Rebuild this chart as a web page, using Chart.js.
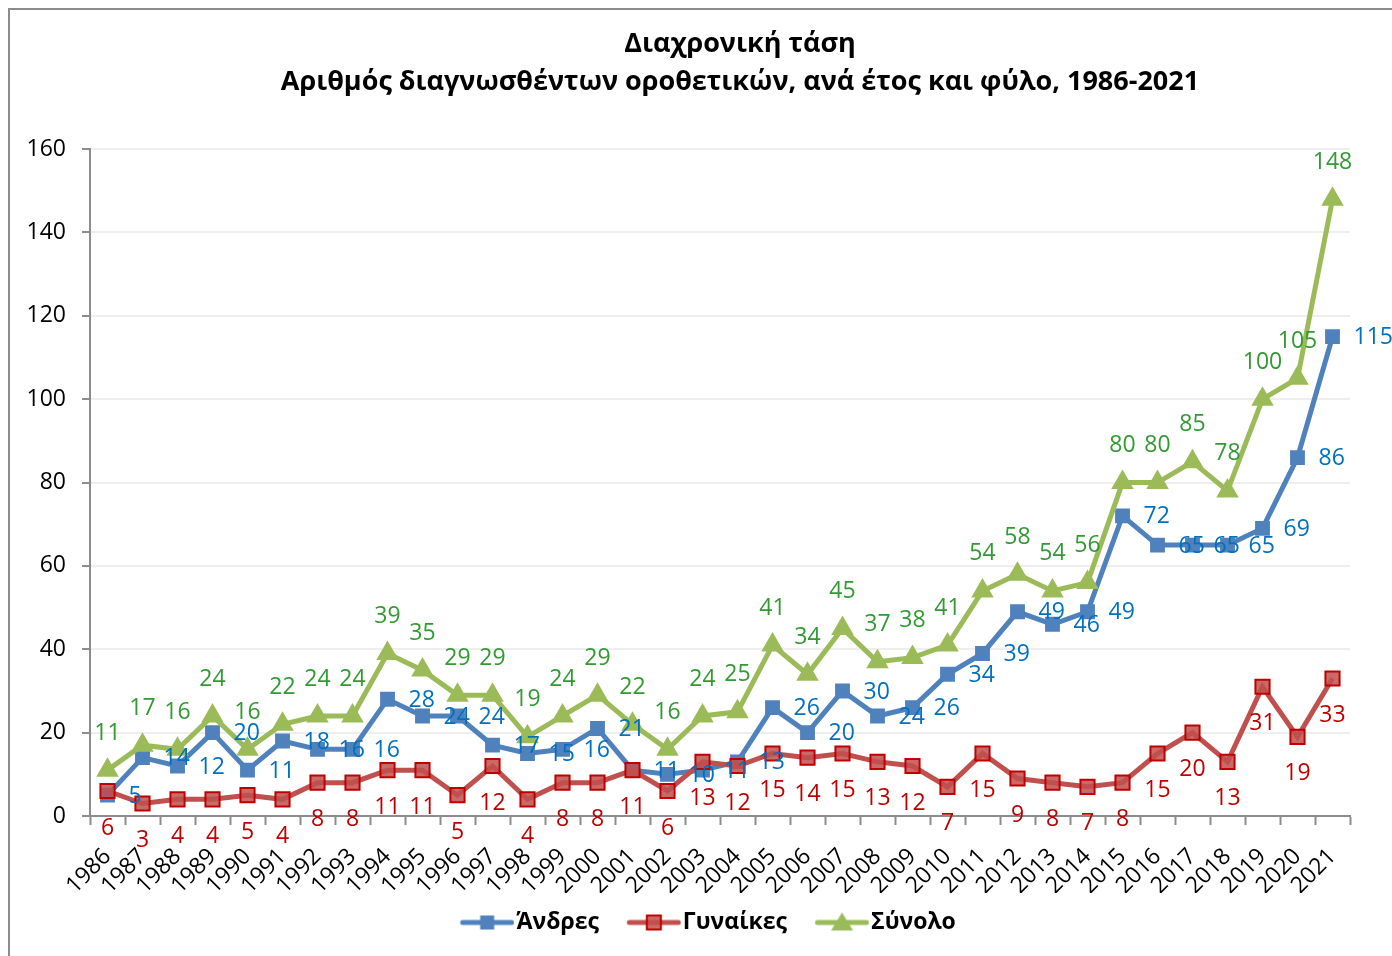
<!DOCTYPE html>
<html lang="el">
<head>
<meta charset="utf-8">
<title>Διαχρονική τάση</title>
<script src="https://cdn.jsdelivr.net/npm/chart.js@4.4.1/dist/chart.umd.min.js"></script>
<style>
  html, body { margin: 0; padding: 0; background: #fff; overflow: hidden; }
  #wrap { position: relative; width: 1392px; height: 956px; }
  #frame { position: absolute; left: 8px; top: 8px; width: 1500px; height: 1100px;
           border: 2px solid #8c8c8c; box-sizing: border-box; pointer-events: none; }
  canvas { position: absolute; left: 0; top: 0; }
</style>
</head>
<body>
<div id="wrap">
  <canvas id="myChart" width="1392" height="956"></canvas>
  <div id="frame"></div>
</div>
<script>
// data
var years = ['1986', '1987', '1988', '1989', '1990', '1991', '1992', '1993', '1994', '1995',
             '1996', '1997', '1998', '1999', '2000', '2001', '2002', '2003', '2004', '2005',
             '2006', '2007', '2008', '2009', '2010', '2011', '2012', '2013', '2014', '2015',
             '2016', '2017', '2018', '2019', '2020', '2021'];
var men   = [5, 14, 12, 20, 11, 18, 16, 16, 28, 24, 24, 17, 15, 16, 21, 11, 10, 11, 13, 26,
             20, 30, 24, 26, 34, 39, 49, 46, 49, 72, 65, 65, 65, 69, 86, 115];
var women = [6, 3, 4, 4, 5, 4, 8, 8, 11, 11, 5, 12, 4, 8, 8, 11, 6, 13, 12, 15,
             14, 15, 13, 12, 7, 15, 9, 8, 7, 8, 15, 20, 13, 31, 19, 33];
var total = [11, 17, 16, 24, 16, 22, 24, 24, 39, 35, 29, 29, 19, 24, 29, 22, 16, 24, 25, 41,
             34, 45, 37, 38, 41, 54, 58, 54, 56, 80, 80, 85, 78, 100, 105, 148];
var seriesNames = ['Άνδρες', 'Γυναίκες', 'Σύνολο'];
var yMin = 0, yMax = 160, yStep = 20;

var FONT = '"Open Sans", "Noto Sans", sans-serif';

// little line+marker pictures for the legend (line sits to the right of the box start)
function legendIcon(lineColor, marker) {
  var c = document.createElement('canvas');
  c.width = 74; c.height = 24;
  var g = c.getContext('2d');
  var x0 = 19.75, x1 = 73.75, mid = (x0 + x1) / 2;
  g.strokeStyle = lineColor;
  g.lineWidth = 5;
  g.lineCap = 'round';
  g.beginPath(); g.moveTo(x0 + 2.5, 12); g.lineTo(x1 - 2.5, 12); g.stroke();
  if (marker === 'blue') {
    g.fillStyle = '#4F81BD';
    g.fillRect(mid - 7, 5, 14, 14);
  } else if (marker === 'red') {
    g.fillStyle = 'rgba(192, 80, 77, 0.85)';
    g.fillRect(mid - 7, 5, 14, 14);
    g.strokeStyle = '#C00000'; g.lineWidth = 2;
    g.strokeRect(mid - 7, 5, 14, 14);
  } else {
    g.fillStyle = '#9BBB59';
    g.beginPath(); g.moveTo(mid, 2); g.lineTo(mid + 11, 20); g.lineTo(mid - 11, 20); g.closePath(); g.fill();
  }
  return c;
}
var icons = [legendIcon('#4F81BD', 'blue'), legendIcon('#C0504D', 'red'), legendIcon('#9BBB59', 'green')];

// value labels, placed the way the spreadsheet did it
var valueLabels = {
  id: 'valueLabels',
  afterDatasetsDraw: function (chart) {
    var ctx = chart.ctx;
    ctx.save();
    ctx.font = '23px ' + FONT;
    chart.data.datasets.forEach(function (ds, i) {
      var meta = chart.getDatasetMeta(i);
      ctx.fillStyle = ds.labelColor;
      meta.data.forEach(function (pt, j) {
        var txt = String(ds.data[j]);
        if (ds.labelPos === 'right') {
          ctx.textAlign = 'left'; ctx.textBaseline = 'middle';
          ctx.fillText(txt, pt.x + 21, pt.y + 1);
        } else if (ds.labelPos === 'below') {
          ctx.textAlign = 'center'; ctx.textBaseline = 'middle';
          ctx.fillText(txt, pt.x, pt.y + 37);
        } else {
          ctx.textAlign = 'center'; ctx.textBaseline = 'middle';
          ctx.fillText(txt, pt.x, pt.y - 37);
        }
      });
    });
    ctx.restore();
  }
};

// the original title sits centred on the whole (wider) frame, the legend a bit left of that
var shiftBlocks = {
  id: 'shiftBlocks',
  afterLayout: function (chart) {
    if (chart.titleBlock) { chart.titleBlock.left = 0; chart.titleBlock.right = 1480; }
    if (chart.legend) { chart.legend.left = 0; chart.legend.right = 1406; }
  }
};

var ctx = document.getElementById('myChart').getContext('2d');

var myChart = new Chart(ctx, {
  type: 'line',
  data: {
    labels: years,
    datasets: [{
      label: seriesNames[0],
      data: men,
      borderColor: '#4F81BD',
      backgroundColor: '#4F81BD',
      borderWidth: 5,
      pointStyle: 'rect',
      pointRadius: 10.5,
      pointBorderWidth: 0,
      pointBackgroundColor: '#4F81BD',
      labelColor: '#0070C0',
      labelPos: 'right',
      order: 3
    }, {
      label: seriesNames[1],
      data: women,
      borderColor: '#C0504D',
      backgroundColor: '#C0504D',
      borderWidth: 5,
      pointStyle: 'rect',
      pointRadius: 10,
      pointBorderWidth: 2,
      pointBorderColor: '#C00000',
      pointBackgroundColor: 'rgba(192, 80, 77, 0.85)',
      labelColor: '#C00000',
      labelPos: 'below',
      order: 2
    }, {
      label: seriesNames[2],
      data: total,
      borderColor: '#9BBB59',
      backgroundColor: '#9BBB59',
      borderWidth: 5,
      pointStyle: 'triangle',
      pointRadius: 13,
      pointBorderWidth: 0,
      pointBackgroundColor: '#9BBB59',
      labelColor: '#339933',
      labelPos: 'above',
      order: 1
    }]
  },
  options: {
    responsive: false,
    animation: false,
    layout: { padding: { left: 0, right: 42, top: 0, bottom: 12 } },
    scales: {
      x: {
        offset: true,
        grid: {
          offset: true,
          drawOnChartArea: false,
          drawTicks: true,
          tickLength: 9,
          tickColor: '#8c8c8c',
          tickWidth: 2
        },
        border: { color: '#8c8c8c', width: 2 },
        ticks: {
          autoSkip: false,
          minRotation: 45,
          maxRotation: 45,
          padding: 18,
          color: '#000',
          font: { family: FONT, size: 23 }
        },
        afterFit: function (scale) { scale.height = 77; }
      },
      y: {
        min: yMin,
        max: yMax,
        ticks: {
          stepSize: yStep,
          padding: 16,
          color: '#000',
          font: { family: FONT, size: 23 }
        },
        grid: {
          color: '#EEEEEE',
          lineWidth: 2,
          tickColor: '#8c8c8c',
          tickLength: 8,
          tickWidth: 2
        },
        border: { color: '#8c8c8c', width: 2 },
        afterFit: function (scale) { scale.width = 90; }
      }
    },
    plugins: {
      title: {
        display: true,
        text: ['Διαχρονική τάση', 'Αριθμός διαγνωσθέντων οροθετικών, ανά έτος και φύλο, 1986-2021'],
        color: '#000',
        font: { family: FONT, size: 27, weight: 'bold', lineHeight: 1.41 },
        padding: { top: 25, bottom: 48 }
      },
      legend: {
        position: 'bottom',
        labels: {
          usePointStyle: true,
          pointStyleWidth: 54.5,
          padding: 18,
          color: '#000',
          font: { family: FONT, size: 23, weight: 'bold' },
          generateLabels: function (chart) {
            return chart.data.datasets.map(function (ds, i) {
              return {
                text: ds.label,
                fillStyle: ds.borderColor,
                strokeStyle: ds.borderColor,
                lineWidth: 0,
                pointStyle: icons[i],
                hidden: false,
                datasetIndex: i
              };
            });
          }
        }
      },
      tooltip: { enabled: false }
    }
  },
  plugins: [valueLabels, shiftBlocks]
});
</script>
</body>
</html>
